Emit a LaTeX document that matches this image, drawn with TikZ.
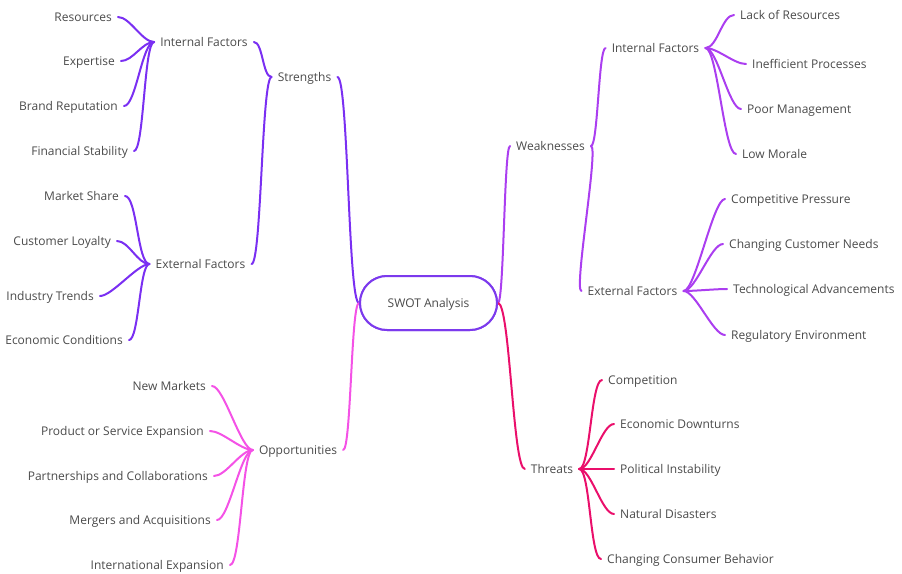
\documentclass[tikz,border=0pt]{standalone}
\usepackage{fontspec}
\setmainfont{Open Sans}
\begin{document}
\begin{tikzpicture}[x=1pt,y=-1pt,
  every node/.style={font=\fontsize{12}{14}\selectfont, text=txtgray, inner xsep=6pt, inner ysep=2pt, text height=10pt, text depth=1pt},
  sline/.style={draw=colS, line width=2pt, line cap=round},
  wline/.style={draw=colW, line width=2pt, line cap=round},
  oline/.style={draw=colO, line width=2pt, line cap=round},
  tline/.style={draw=colT, line width=2pt, line cap=round},
  L/.style={out=180,in=0,distance=#1},
  R/.style={out=0,in=180,distance=#1},
  hub/.style={draw=colC, line width=2pt, rounded corners=27pt, minimum width=137pt, minimum height=54pt, fill=white}
]
\definecolor{txtgray}{HTML}{4A4A4A}
\definecolor{colS}{HTML}{7A2FF2}
\definecolor{colW}{HTML}{AB3EF0}
\definecolor{colO}{HTML}{F452E6}
\definecolor{colT}{HTML}{EA0F6B}
\definecolor{colC}{HTML}{7C3AED}
\useasboundingbox (0,0) rectangle (902,573);

% central
\node[hub] (swot) at (428.5,303) {SWOT Analysis};

% left: strengths
\node (str) at (304.5,77) {Strengths};
\node (ifs) at (204,42) {Internal Factors};
\node (efs) at (200.5,264) {External Factors};
\node[anchor=east] (res) at (118,17) {Resources};
\node[anchor=east] (exp) at (121,61) {Expertise};
\node[anchor=east] (brand) at (124,106) {Brand Reputation};
\node[anchor=east] (fin) at (134,151) {Financial Stability};
\node[anchor=east] (mkt) at (125,196) {Market Share};
\node[anchor=east] (cust) at (117,241) {Customer Loyalty};
\node[anchor=east] (ind) at (100,296) {Industry Trends};
\node[anchor=east] (econ) at (129,340) {Economic Conditions};

% left: opportunities
\node (opp) at (298,450) {Opportunities};
\node[anchor=east] (newm) at (212,386) {New Markets};
\node[anchor=east] (pse) at (210,431) {Product or Service Expansion};
\node[anchor=east] (part) at (214,476) {Partnerships and Collaborations};
\node[anchor=east] (merg) at (217,520) {Mergers and Acquisitions};
\node[anchor=east] (intl) at (230,565) {International Expansion};

% right: weaknesses
\node (weak) at (550.5,146) {Weaknesses};
\node (ifw) at (655.5,48) {Internal Factors};
\node (efw) at (632.5,291) {External Factors};
\node[anchor=west] (lack) at (734,15) {Lack of Resources};
\node[anchor=west] (ineff) at (746,64) {Inefficient Processes};
\node[anchor=west] (poor) at (741,109) {Poor Management};
\node[anchor=west] (low) at (736,154) {Low Morale};
\node[anchor=west] (comp) at (725,199) {Competitive Pressure};
\node[anchor=west] (ccn) at (723,244) {Changing Customer Needs};
\node[anchor=west] (tech) at (727,289) {Technological Advancements};
\node[anchor=west] (reg) at (725,335) {Regulatory Environment};

% right: threats
\node (thr) at (552,469) {Threats};
\node[anchor=west] (compt) at (602,380) {Competition};
\node[anchor=west] (ecd) at (614,424) {Economic Downturns};
\node[anchor=west] (pol) at (614,469) {Political Instability};
\node[anchor=west] (nat) at (614,514) {Natural Disasters};
\node[anchor=west] (ccb) at (601,559) {Changing Consumer Behavior};

% strengths connectors
\draw[sline] (swot.west) to[L=11] (str.east);
\draw[sline] (str.west) to[L=9] (ifs.east);
\draw[sline] (str.west) to[L=10] (efs.east);
\draw[sline] (ifs.west) to[L=12] (res.east);
\draw[sline] (ifs.west) to[L=12] (exp.east);
\draw[sline] (ifs.west) to[L=12] (brand.east);
\draw[sline] (ifs.west) to[L=10] (fin.east);
\draw[sline] (efs.west) to[L=12] (mkt.east);
\draw[sline] (efs.west) to[L=12] (cust.east);
\draw[sline] (efs.west) to[L=12] (ind.east);
\draw[sline] (efs.west) to[L=10] (econ.east);

% opportunities connectors
\draw[oline] (swot.west) to[L=8] (opp.east);
\draw[oline] (opp.west) to[L=12] (newm.east);
\draw[oline] (opp.west) to[L=12] (pse.east);
\draw[oline] (opp.west) to[L=12] (part.east);
\draw[oline] (opp.west) to[L=12] (merg.east);
\draw[oline] (opp.west) to[L=11] (intl.east);

% weaknesses connectors
\draw[wline] (swot.east) to[R=6] (weak.west);
\draw[wline] (weak.east) to[R=7] (ifw.west);
\draw[wline] (weak.east) to[R=8] (efw.west);
\draw[wline] (ifw.east) to[R=12] (lack.west);
\draw[wline] (ifw.east) to[R=12] (ineff.west);
\draw[wline] (ifw.east) to[R=12] (poor.west);
\draw[wline] (ifw.east) to[R=12] (low.west);
\draw[wline] (efw.east) to[R=12] (comp.west);
\draw[wline] (efw.east) to[R=12] (ccn.west);
\draw[wline] (efw.east) to[R=12] (tech.west);
\draw[wline] (efw.east) to[R=12] (reg.west);

% threats connectors
\draw[tline] (swot.east) to[R=12] (thr.west);
\draw[tline] (thr.east) to[R=11] (compt.west);
\draw[tline] (thr.east) to[R=12] (ecd.west);
\draw[tline] (thr.east) to[R=12] (pol.west);
\draw[tline] (thr.east) to[R=12] (nat.west);
\draw[tline] (thr.east) to[R=11] (ccb.west);

% redraw hub on top
\node[hub] at (swot) {SWOT Analysis};
\end{tikzpicture}
\end{document}
